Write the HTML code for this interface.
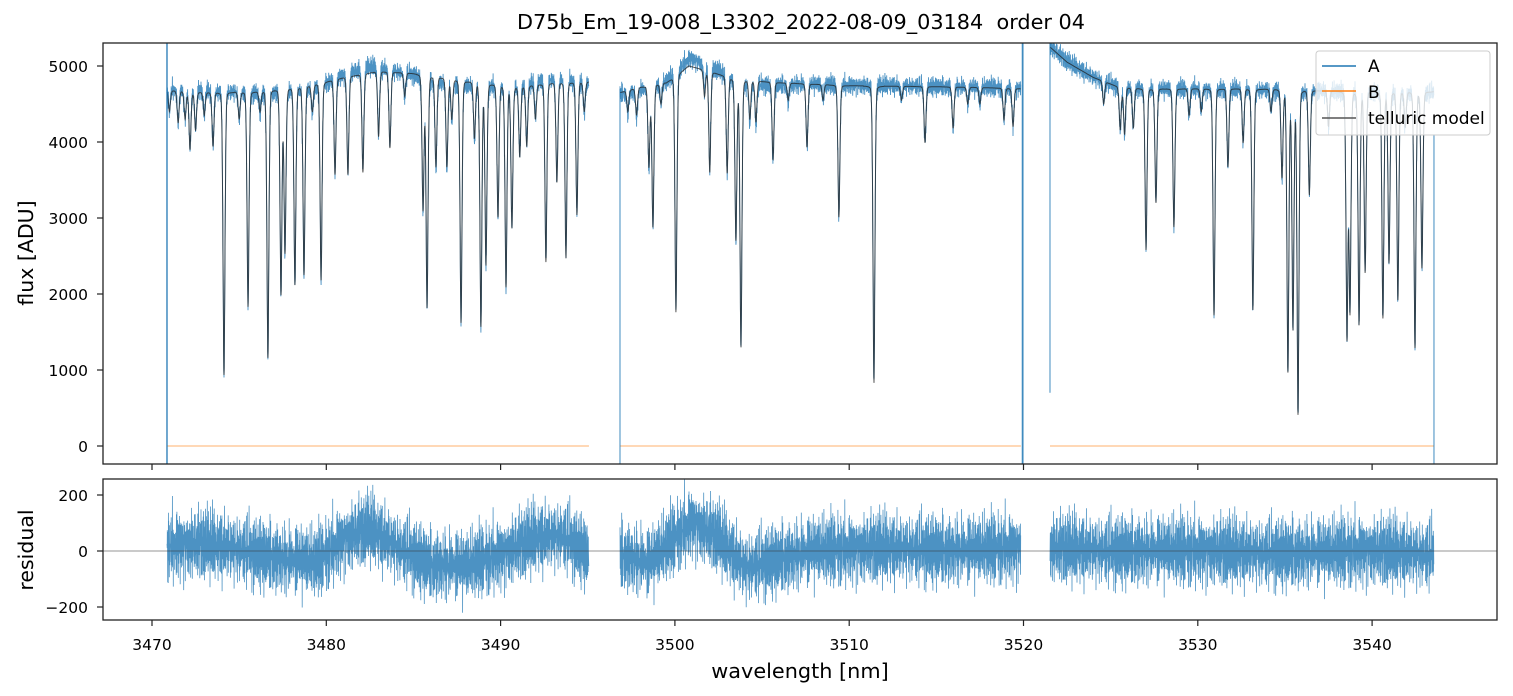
<!DOCTYPE html>
<html><head><meta charset="utf-8">
<style>
html,body{margin:0;padding:0;background:#fff;}
svg{display:block;font-family:"DejaVu Sans","Liberation Sans",sans-serif;}
</style></head>
<body>
<svg id="chart" width="1513" height="696" viewBox="0 0 1513 696" xmlns="http://www.w3.org/2000/svg">
<rect x="0" y="0" width="1513" height="696" fill="#fff"/>
<text x="801" y="29" font-size="20.8" text-anchor="middle" fill="#000" style="white-space:pre">D75b_Em_19-008_L3302_2022-08-09_03184  order 04</text>
<defs>
<clipPath id="cTop"><rect x="103" y="43" width="1394" height="421"/></clipPath>
<clipPath id="cBot"><rect x="103" y="479" width="1394" height="141"/></clipPath>
</defs>
<g id="gtop" clip-path="url(#cTop)"></g>
<g id="gbot" clip-path="url(#cBot)"></g>
<g id="axes"></g>
<g>
<rect x="1316" y="51" width="174" height="84" rx="3" fill="#fff" fill-opacity="0.8" stroke="#ccc" stroke-width="1"/>
<line x1="1322" y1="66" x2="1356" y2="66" stroke="#1f77b4" stroke-width="1.5"/>
<text x="1368" y="72" font-size="17">A</text>
<line x1="1322" y1="91" x2="1356" y2="91" stroke="#ff7f0e" stroke-width="1.5"/>
<text x="1368" y="98" font-size="17">B</text>
<line x1="1322" y1="118" x2="1356" y2="118" stroke="#555" stroke-width="1.5"/>
<text x="1368" y="124" font-size="17">telluric model</text>
</g>
<text transform="translate(33,253) rotate(-90)" font-size="20.5" text-anchor="middle">flux [ADU]</text>
<text transform="translate(33,550) rotate(-90)" font-size="20.5" text-anchor="middle">residual</text>
<text x="800" y="678" font-size="20.8" text-anchor="middle">wavelength [nm]</text>
</svg>
<script>
// ---- data ----
const segStarts = [3470.86, 3496.85, 3521.52];
const segEnds = [3495.07, 3519.85, 3543.55];
// continuum knots per segment: wavelength / flux
const contWave = [
 [3470.86,3473,3476,3479,3481,3483,3485,3488,3491,3493,3495.07],
 [3496.85,3498,3499.5,3500.8,3502,3503.5,3506,3510,3514,3517,3519.85],
 [3521.52,3522.5,3524,3525.5,3527,3530,3533,3536,3539,3541,3543.55]];
const contFlux = [
 [4680,4650,4660,4740,4850,4930,4900,4800,4720,4780,4790],
 [4650,4720,4780,5000,4930,4820,4780,4740,4730,4720,4700],
 [5250,5050,4850,4720,4700,4700,4700,4680,4660,4660,4660]];
// absorption lines: centre wavelength / minimum flux
const lineWave = [3471.5,3472.18,3472.5,3473.5,3474.13,3475.51,3476.65,3477.40,3477.63,3478.20,3478.72,3479.70,3480.50,3481.24,3482.10,3483.0,3483.65,3485.55,3485.78,3486.29,3486.92,3487.73,3488.5,3488.87,3489.16,3489.85,3490.31,3490.65,3491.1,3491.5,3492.6,3493.23,3493.75,3494.38,
 3471.0,3471.9,3473.0,3475.0,3476.2,3479.2,3484.5,3487.2,3492.0,3494.8,
 3497.8,3498.51,3498.74,3500.06,3502.0,3503.0,3503.5,3503.79,3504.65,3505.63,3507.58,3509.41,3511.42,3514.35,3515.96,3518.88,3519.4,
 3497.3,3499.2,3501.7,3504.3,3506.5,3508.5,3513.0,3516.8,3517.5,
 3525.55,3525.8,3526.3,3527.03,3527.6,3528.63,3530.93,3531.73,3532.6,3533.16,3534.83,3535.17,3535.46,3535.75,3536.4,3538.56,3538.73,3539.25,3539.6,3540.62,3540.97,3541.48,3542.46,3542.86,
 3524.6,3529.5,3530.2,3534.2,3537.5,3541.9];
const lineMin = [4250,3900,4150,3940,934,1830,1160,1990,2540,2120,2250,2180,3570,3570,3600,4070,3920,3100,1820,3670,3670,1620,4050,1570,2380,3010,2090,2870,3800,3940,2420,3470,2470,3040,
 4400,4300,4350,4300,4400,4400,4600,4300,4300,4400,
 4350,3670,2880,1760,3600,3590,2710,1300,4260,3760,3930,3010,830,3990,4180,4290,4200,
 4400,4500,4600,4300,4550,4550,4550,4500,4500,
 4160,4100,4180,2580,3200,2880,1720,3670,3990,1790,3530,970,1530,410,3300,1400,1750,1590,2280,1680,2410,1920,1290,2340,
 4500,4350,4400,4400,4200,4200];
// residual trend knots
const resWave = [3470.9,3473,3475,3477.5,3479.5,3481,3482.5,3484,3486,3488,3490,3492,3493.5,3495.07,
 3496.9,3498.5,3500,3501,3502.5,3504,3506,3508,3512,3516,3519.85,
 3521.6,3525,3530,3535,3540,3543.5];
const resMean = [15,25,5,-30,-40,40,80,15,-50,-55,-15,45,55,-15,
 -15,-45,45,100,45,-60,-30,0,10,0,10,
 10,0,0,-10,0,-15];
// noise patterns (ADU), two coprime lengths combined
const noise = [42,-63,88,-15,-97,51,8,-120,74,-33,110,-58,19,-84,63,-5,-140,96,-27,45,-71,130,-12,-46,82,-108,27,60,-89,14,-38,152,-66,35,-22,98,-130,5,71,-54];
const noise2 = [-35,71,-12,58,-90,24,3,-66,110,-41,17,85,-23,-77,49,-8,64,-102,31,-55,92,-19,6];

// ---- axes ----
const X=v=>152+(v-3470)*17.43;
const YT=v=>446-v*0.076;
const YB=v=>551-v*0.28;
const NS="http://www.w3.org/2000/svg";
function mk(tag,attrs,parent){const e=document.createElementNS(NS,tag);for(const k in attrs)e.setAttribute(k,attrs[k]);parent.appendChild(e);return e;}
function interp(xs,ys,x){if(x<=xs[0])return ys[0];for(let i=1;i<xs.length;i++){if(x<=xs[i]){const t=(x-xs[i-1])/(xs[i]-xs[i-1]);return ys[i-1]+t*(ys[i]-ys[i-1]);}}return ys[ys.length-1];}
const gTop=document.getElementById('gtop'), gBot=document.getElementById('gbot'), gAxes=document.getElementById('axes');
const sig=0.06;
let kk=0;
for(let s=0;s<3;s++){
 let pm='',pa='',pr='';
 for(let w=segStarts[s];w<=segEnds[s];w+=0.01){
  const c=interp(contWave[s],contFlux[s],w);
  let m=c;
  for(let i=0;i<lineWave.length;i++){const d=w-lineWave[i];if(Math.abs(d)<0.6){const dep=1-lineMin[i]/c;m*=1-dep*(0.8*Math.exp(-d*d/(2*sig*sig))+0.2/(1+d*d/(0.04*0.04)));}}
  const r=interp(resWave,resMean,w)+noise[kk%noise.length]*0.75+noise2[kk%noise2.length]*0.6;
  kk++;
  const a=m+r*(0.4+0.6*m/c);
  pm+=X(w).toFixed(1)+','+YT(m).toFixed(1)+' ';
  pa+=X(w).toFixed(1)+','+YT(a).toFixed(1)+' ';
  pr+=X(w).toFixed(1)+','+YB(r).toFixed(1)+' ';
 }
 const la=mk('polyline',{points:pa,fill:'none',stroke:'#1f77b4','stroke-opacity':0.8,'stroke-width':0.9},gTop);
 
 
 const lm=mk('polyline',{points:pm,fill:'none',stroke:'#222','stroke-opacity':0.75,'stroke-width':1},gTop);
 
 
 const lb=mk('line',{x1:X(segStarts[s]),x2:X(segEnds[s]),y1:YT(0),y2:YT(0),stroke:'#ff7f0e','stroke-opacity':0.6,'stroke-width':1},gTop);
 
 
 const lr=mk('polyline',{points:pr,fill:'none',stroke:'#1f77b4','stroke-opacity':0.8,'stroke-width':0.8},gBot);
 
 
}
// segment edge verticals of A
const edgeWave=[3470.86,3496.85,3519.95,3521.52,3543.55];
const edgeW=[1.5,1,1.8,1,1];
const edgeTop=[5400,4700,5400,5300,4100];
const edgeBot=[-300,-300,-300,700,-300];
for(let i=0;i<edgeWave.length;i++){
 const e=mk('line',{x1:X(edgeWave[i]),x2:X(edgeWave[i]),y1:YT(edgeTop[i]),y2:YT(edgeBot[i]),stroke:'#1f77b4','stroke-opacity':0.85,'stroke-width':edgeW[i]},gTop);
 
 
}
const z=mk('line',{x1:103,x2:1497,y1:YB(0),y2:YB(0),stroke:'#333','stroke-opacity':0.7,'stroke-width':0.8},gBot);


// frames
const f1=mk('rect',{x:103,y:43,width:1394,height:421,fill:'none',stroke:'#222','stroke-width':1.3},gAxes);


const f2=mk('rect',{x:103,y:479,width:1394,height:141,fill:'none',stroke:'#222','stroke-width':1.3},gAxes);


const xTicks=[3470,3480,3490,3500,3510,3520,3530,3540];
const yTicksTop=[0,1000,2000,3000,4000,5000];
const yTicksBot=[-200,0,200];
for(const t of xTicks){
 const t1=mk('line',{x1:X(t),x2:X(t),y1:464,y2:470,stroke:'#222','stroke-width':1.2},gAxes);
 
 
 const t2=mk('line',{x1:X(t),x2:X(t),y1:620,y2:626,stroke:'#222','stroke-width':1.2},gAxes);
 
 
 const tl=mk('text',{x:X(t),y:650,'font-size':15.5,'text-anchor':'middle'},gAxes);
 tl.textContent=t;
 
 
}
for(const t of yTicksTop){
 const tk=mk('line',{x1:97,x2:103,y1:YT(t),y2:YT(t),stroke:'#222','stroke-width':1.2},gAxes);
 
 
 const tl=mk('text',{x:88,y:YT(t)+6,'font-size':15.5,'text-anchor':'end'},gAxes);
 tl.textContent=t;
 
 
}
for(const t of yTicksBot){
 const tk=mk('line',{x1:97,x2:103,y1:YB(t),y2:YB(t),stroke:'#222','stroke-width':1.2},gAxes);
 
 
 const tl=mk('text',{x:88,y:YB(t)+6,'font-size':15.5,'text-anchor':'end'},gAxes);
 tl.textContent=(t<0?'\u2212'+(-t):t);
 
 
}
</script>
</body></html>
